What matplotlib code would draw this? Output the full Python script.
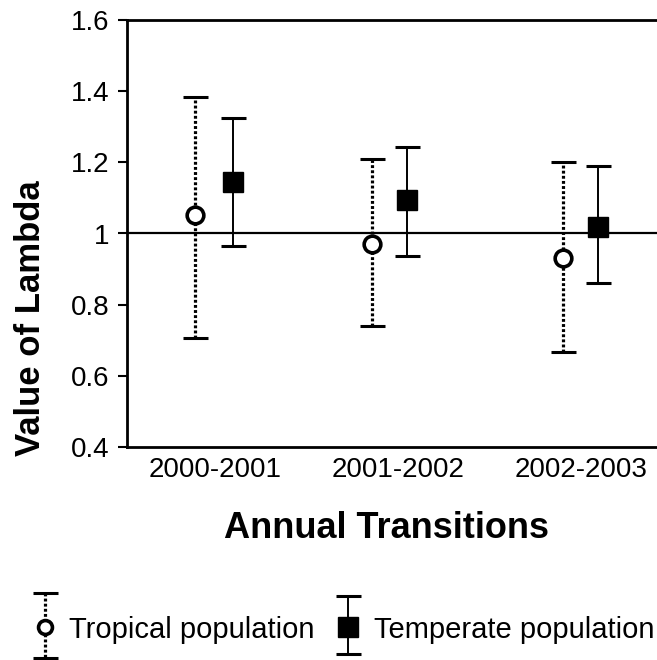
import matplotlib.pyplot as plt
from matplotlib.ticker import FuncFormatter

plt.rcParams["font.family"] = ["Liberation Sans", "DejaVu Sans"]

# Data
transitions = ["2000-2001", "2001-2002", "2002-2003"]
tick_x = [0.0, 1.0, 2.0]
tropical_x = [-0.11, 0.86, 1.90]
temperate_x = [0.10, 1.05, 2.09]
tropical_mean = [1.052, 0.971, 0.931]
tropical_low = [0.707, 0.740, 0.667]
tropical_high = [1.384, 1.210, 1.201]
temperate_mean = [1.145, 1.094, 1.019]
temperate_low = [0.965, 0.937, 0.861]
temperate_high = [1.325, 1.243, 1.190]

W, H = 657, 660
fig = plt.figure(figsize=(W / 100, H / 100), dpi=100)
ax = fig.add_axes([127 / W, 1 - 447 / H, 1 - 127 / W, 427 / H])


def draw_errorbar(axis, x, mean, low, high, dotted, marker, ms, face):
    yerr = [[m - l for m, l in zip(mean, low)], [h - m for h, m in zip(high, mean)]]
    cont = axis.errorbar(
        x, mean, yerr=yerr, fmt=marker, ms=ms, mfc=face, mec="black",
        mew=2.6 if dotted else 1.0, ecolor="black",
        elinewidth=2.3 if dotted else 1.4, capsize=9, zorder=3,
    )
    for cap in cont[1]:
        cap.set_markeredgewidth(2.2)
    if dotted:
        cont[2][0].set_linestyle((0, (0.9, 0.7)))
    return cont


draw_errorbar(ax, tropical_x, tropical_mean, tropical_low, tropical_high,
              True, "o", 12, "white")
draw_errorbar(ax, temperate_x, temperate_mean, temperate_low, temperate_high,
              False, "s", 14, "black")

ax.axhline(1.0, color="black", lw=1.6, zorder=2)

ax.set_ylim(0.4, 1.6)
ax.set_xlim(-0.48, 2.415)
ax.set_yticks([0.4, 0.6, 0.8, 1.0, 1.2, 1.4, 1.6])
ax.yaxis.set_major_formatter(FuncFormatter(lambda v, p: f"{v:g}"))
ax.set_xticks(tick_x)
ax.set_xticklabels(transitions)
ax.tick_params(axis="y", direction="out", length=6.5, width=1.5, pad=6, labelsize=20)
ax.tick_params(axis="x", length=0, pad=7, labelsize=20)
for side in ["left", "bottom", "top"]:
    ax.spines[side].set_linewidth(2)
ax.spines["right"].set_visible(False)

fig.text(31 / W, 1 - 318 / H, "Value of Lambda", rotation=90, ha="center",
         va="center", fontsize=25, fontweight="bold")
fig.text(387 / W, 1 - 529 / H, "Annual Transitions", ha="center", va="center",
         fontsize=26, fontweight="bold")

# Legend drawn in a figure-pixel overlay (y axis inverted, pixels from top)
lax = fig.add_axes([0, 0, 1, 1], facecolor="none")
lax.set_xlim(0, W)
lax.set_ylim(H, 0)
lax.axis("off")
draw_errorbar(lax, [45], [627], [593], [658], True, "o", 10, "white")
draw_errorbar(lax, [348], [627], [596], [654], False, "s", 14, "black")
lax.text(69, 630, "Tropical population", va="center", ha="left", fontsize=21)
lax.text(374, 630, "Temperate population", va="center", ha="left", fontsize=21)

fig.savefig("out.png", dpi=100)
